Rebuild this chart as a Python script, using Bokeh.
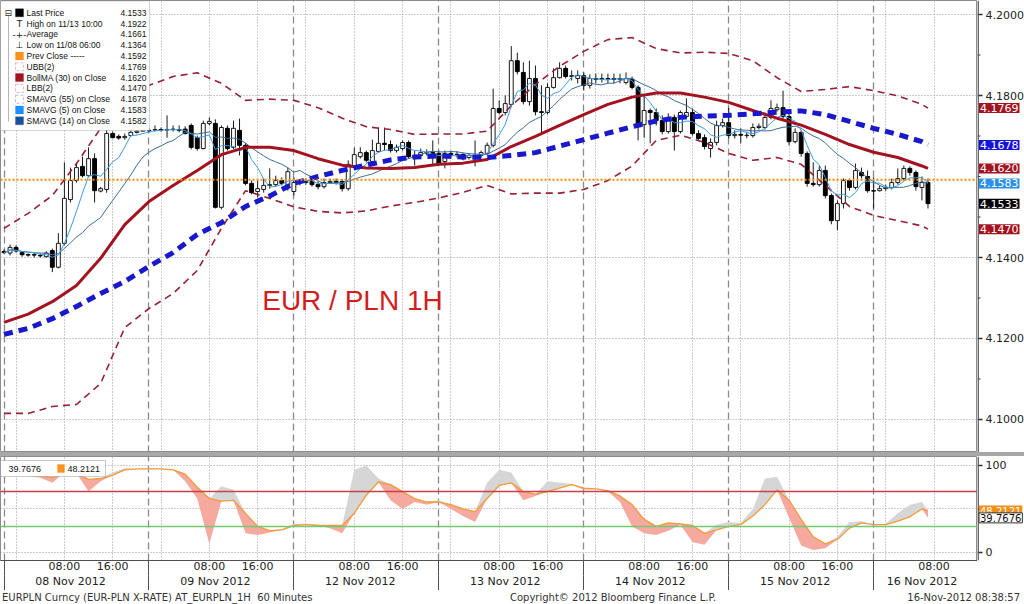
import numpy as np
import pandas as pd
from bokeh.plotting import figure
from bokeh.models import (Range1d, FixedTicker, Grid, Span, Label, BoxAnnotation,
                          Div, LinearAxis)
from bokeh.layouts import column, row
from bokeh.embed import file_html
from bokeh.resources import INLINE

# ---------------- data ----------------
day_labels = ["08 Nov 2012", "09 Nov 2012", "12 Nov 2012", "13 Nov 2012",
              "14 Nov 2012", "15 Nov 2012", "16 Nov 2012"]
session_start_hour = 22          # each trading day starts at 22:00
time_labels = ["08:00", "16:00"]

opens = [
    4.1415, 4.1411, 4.1425, 4.1412, 4.1407, 4.1407, 4.1405, 4.1402, 4.1417, 4.1376, 4.1435, 4.1543,
    4.1590, 4.1625, 4.1602, 4.1644, 4.1564, 4.1568, 4.1706, 4.1699, 4.1696, 4.1701, 4.1709, 4.1712,
    4.1714, 4.1715, 4.1716, 4.1715, 4.1716, 4.1716, 4.1717, 4.1726, 4.1696, 4.1669, 4.1731, 4.1731,
    4.1524, 4.1719, 4.1672, 4.1714, 4.1677, 4.1583, 4.1563, 4.1568, 4.1578, 4.1580, 4.1590, 4.1578,
    4.1563, 4.1585, 4.1585, 4.1588, 4.1580, 4.1575, 4.1585, 4.1588, 4.1588, 4.1570, 4.1627, 4.1649,
    4.1659, 4.1637, 4.1662, 4.1682, 4.1679, 4.1664, 4.1669, 4.1684, 4.1649, 4.1652, 4.1659, 4.1659,
    4.1657, 4.1637, 4.1657, 4.1654, 4.1654, 4.1647, 4.1649, 4.1652, 4.1657, 4.1677, 4.1768, 4.1758,
    4.1778, 4.1886, 4.1857, 4.1785, 4.1842, 4.1760, 4.1758, 4.1820, 4.1844, 4.1867, 4.1847, 4.1842,
    4.1849, 4.1825, 4.1842, 4.1840, 4.1842, 4.1842, 4.1840, 4.1832, 4.1840, 4.1820, 4.1728, 4.1763,
    4.1758, 4.1738, 4.1711, 4.1746, 4.1711, 4.1748, 4.1758, 4.1706, 4.1696, 4.1669, 4.1684, 4.1726,
    4.1733, 4.1701, 4.1704, 4.1701, 4.1701, 4.1721, 4.1721, 4.1746, 4.1765, 4.1770, 4.1748, 4.1686,
    4.1709, 4.1657, 4.1583, 4.1580, 4.1615, 4.1553, 4.1491, 4.1533, 4.1590, 4.1573, 4.1610, 4.1600,
    4.1565, 4.1565, 4.1570, 4.1573, 4.1585, 4.1595, 4.1620, 4.1610, 4.1573, 4.1585]
highs = [
    4.1420, 4.1432, 4.1430, 4.1415, 4.1410, 4.1412, 4.1410, 4.1415, 4.1422, 4.1460, 4.1635, 4.1622,
    4.1632, 4.1649, 4.1672, 4.1657, 4.1574, 4.1721, 4.1711, 4.1704, 4.1706, 4.1714, 4.1719, 4.1721,
    4.1719, 4.1726, 4.1721, 4.1751, 4.1726, 4.1726, 4.1724, 4.1731, 4.1701, 4.1738, 4.1746, 4.1741,
    4.1726, 4.1726, 4.1738, 4.1743, 4.1682, 4.1590, 4.1590, 4.1595, 4.1620, 4.1602, 4.1598, 4.1622,
    4.1598, 4.1593, 4.1595, 4.1595, 4.1588, 4.1595, 4.1595, 4.1595, 4.1593, 4.1640, 4.1672, 4.1672,
    4.1664, 4.1691, 4.1721, 4.1721, 4.1689, 4.1679, 4.1689, 4.1689, 4.1664, 4.1669, 4.1667, 4.1689,
    4.1664, 4.1664, 4.1664, 4.1662, 4.1659, 4.1657, 4.1689, 4.1664, 4.1684, 4.1817, 4.1788, 4.1800,
    4.1922, 4.1906, 4.1882, 4.1886, 4.1874, 4.1825, 4.1830, 4.1867, 4.1882, 4.1874, 4.1862, 4.1862,
    4.1857, 4.1852, 4.1854, 4.1854, 4.1854, 4.1854, 4.1854, 4.1857, 4.1847, 4.1825, 4.1800, 4.1768,
    4.1768, 4.1751, 4.1756, 4.1753, 4.1763, 4.1793, 4.1768, 4.1714, 4.1704, 4.1694, 4.1738, 4.1743,
    4.1770, 4.1714, 4.1719, 4.1711, 4.1731, 4.1731, 4.1758, 4.1788, 4.1780, 4.1812, 4.1756, 4.1719,
    4.1714, 4.1662, 4.1635, 4.1627, 4.1627, 4.1558, 4.1541, 4.1595, 4.1595, 4.1632, 4.1622, 4.1615,
    4.1598, 4.1578, 4.1580, 4.1595, 4.1620, 4.1627, 4.1625, 4.1615, 4.1600, 4.1595]
lows = [
    4.1410, 4.1405, 4.1412, 4.1402, 4.1402, 4.1400, 4.1400, 4.1400, 4.1364, 4.1373, 4.1430, 4.1536,
    4.1585, 4.1598, 4.1598, 4.1536, 4.1561, 4.1560, 4.1694, 4.1691, 4.1691, 4.1699, 4.1706, 4.1711,
    4.1709, 4.1711, 4.1711, 4.1696, 4.1711, 4.1709, 4.1704, 4.1667, 4.1664, 4.1667, 4.1726, 4.1521,
    4.1519, 4.1664, 4.1667, 4.1652, 4.1578, 4.1556, 4.1548, 4.1560, 4.1570, 4.1575, 4.1578, 4.1565,
    4.1553, 4.1578, 4.1580, 4.1575, 4.1568, 4.1570, 4.1583, 4.1580, 4.1563, 4.1565, 4.1622, 4.1644,
    4.1635, 4.1632, 4.1659, 4.1664, 4.1659, 4.1659, 4.1664, 4.1644, 4.1627, 4.1647, 4.1652, 4.1627,
    4.1627, 4.1620, 4.1647, 4.1647, 4.1640, 4.1642, 4.1625, 4.1647, 4.1654, 4.1672, 4.1753, 4.1751,
    4.1773, 4.1852, 4.1778, 4.1775, 4.1751, 4.1706, 4.1753, 4.1817, 4.1842, 4.1842, 4.1837, 4.1830,
    4.1812, 4.1817, 4.1830, 4.1832, 4.1830, 4.1830, 4.1830, 4.1827, 4.1815, 4.1689, 4.1696, 4.1682,
    4.1726, 4.1704, 4.1706, 4.1664, 4.1706, 4.1743, 4.1701, 4.1689, 4.1667, 4.1647, 4.1677, 4.1721,
    4.1694, 4.1694, 4.1682, 4.1694, 4.1696, 4.1716, 4.1716, 4.1741, 4.1760, 4.1738, 4.1677, 4.1682,
    4.1649, 4.1575, 4.1575, 4.1575, 4.1546, 4.1482, 4.1467, 4.1521, 4.1565, 4.1568, 4.1595, 4.1560,
    4.1521, 4.1563, 4.1565, 4.1568, 4.1580, 4.1590, 4.1602, 4.1565, 4.1541, 4.1521]
closes = [
    4.1412, 4.1425, 4.1416, 4.1407, 4.1406, 4.1406, 4.1404, 4.1411, 4.1376, 4.1435, 4.1546, 4.1590,
    4.1622, 4.1602, 4.1644, 4.1565, 4.1570, 4.1706, 4.1696, 4.1695, 4.1699, 4.1709, 4.1712, 4.1715,
    4.1713, 4.1716, 4.1715, 4.1716, 4.1717, 4.1714, 4.1706, 4.1672, 4.1669, 4.1731, 4.1736, 4.1524,
    4.1721, 4.1669, 4.1719, 4.1677, 4.1583, 4.1560, 4.1570, 4.1578, 4.1580, 4.1590, 4.1583, 4.1612,
    4.1585, 4.1584, 4.1588, 4.1580, 4.1575, 4.1585, 4.1588, 4.1585, 4.1570, 4.1630, 4.1654, 4.1659,
    4.1640, 4.1664, 4.1682, 4.1679, 4.1664, 4.1672, 4.1684, 4.1649, 4.1652, 4.1659, 4.1658, 4.1657,
    4.1632, 4.1657, 4.1654, 4.1655, 4.1644, 4.1652, 4.1652, 4.1659, 4.1677, 4.1768, 4.1758, 4.1780,
    4.1886, 4.1859, 4.1785, 4.1842, 4.1760, 4.1758, 4.1820, 4.1844, 4.1867, 4.1847, 4.1849, 4.1849,
    4.1825, 4.1842, 4.1840, 4.1842, 4.1841, 4.1840, 4.1842, 4.1842, 4.1820, 4.1728, 4.1763, 4.1758,
    4.1738, 4.1711, 4.1746, 4.1711, 4.1758, 4.1758, 4.1706, 4.1694, 4.1674, 4.1684, 4.1726, 4.1733,
    4.1701, 4.1704, 4.1702, 4.1702, 4.1721, 4.1724, 4.1746, 4.1768, 4.1770, 4.1748, 4.1686, 4.1709,
    4.1657, 4.1583, 4.1580, 4.1615, 4.1553, 4.1491, 4.1533, 4.1590, 4.1573, 4.1615, 4.1602, 4.1565,
    4.1564, 4.1570, 4.1573, 4.1585, 4.1595, 4.1620, 4.1610, 4.1575, 4.1585, 4.1533]

# studies sampled every 4 hourly bars (bar index) plus the last bar
band_idx = list(range(0, 153, 4)) + [153]
bollma = [4.1240, 4.1260, 4.1291, 4.1331, 4.1398, 4.1481, 4.1538, 4.1578, 4.1615, 4.1654,
          4.1672, 4.1672, 4.1664, 4.1644, 4.1628, 4.1621, 4.1620, 4.1622, 4.1630, 4.1633,
          4.1642, 4.1674, 4.1699, 4.1726, 4.1753, 4.1778, 4.1796, 4.1806, 4.1806, 4.1796,
          4.1783, 4.1763, 4.1744, 4.1727, 4.1704, 4.1679, 4.1660, 4.1647, 4.1626, 4.1620]
ubb = [4.1472, 4.1509, 4.1553, 4.1632, 4.1719, 4.1788, 4.1825, 4.1847, 4.1856, 4.1830,
       4.1788, 4.1791, 4.1788, 4.1770, 4.1744, 4.1723, 4.1716, 4.1704, 4.1705, 4.1705,
       4.1712, 4.1775, 4.1827, 4.1872, 4.1909, 4.1938, 4.1943, 4.1916, 4.1905, 4.1907,
       4.1904, 4.1886, 4.1844, 4.1810, 4.1815, 4.1822, 4.1812, 4.1799, 4.1778, 4.1769]
lbb = [4.1015, 4.1015, 4.1032, 4.1037, 4.1089, 4.1227, 4.1274, 4.1311, 4.1368, 4.1472,
       4.1565, 4.1546, 4.1525, 4.1514, 4.1510, 4.1515, 4.1527, 4.1536, 4.1547, 4.1561,
       4.1578, 4.1557, 4.1559, 4.1559, 4.1568, 4.1590, 4.1626, 4.1689, 4.1702, 4.1684,
       4.1657, 4.1640, 4.1647, 4.1630, 4.1578, 4.1526, 4.1504, 4.1491, 4.1478, 4.1470]
sma55 = [4.1210, 4.1225, 4.1249, 4.1279, 4.1311, 4.1341, 4.1378, 4.1412, 4.1457, 4.1486,
         4.1526, 4.1552, 4.1583, 4.1600, 4.1615, 4.1628, 4.1641, 4.1648, 4.1651, 4.1648,
         4.1647, 4.1652, 4.1659, 4.1675, 4.1691, 4.1707, 4.1723, 4.1737, 4.1746, 4.1749,
         4.1751, 4.1755, 4.1759, 4.1762, 4.1753, 4.1736, 4.1719, 4.1704, 4.1686, 4.1678]

prev_close = 4.1592
legend_names = ["Last Price", "High on 11/13 10:00", "Average", "Low on 11/08 06:00",
                "Prev Close -----", "UBB(2)", "BollMA (30) on Close", "LBB(2)",
                "SMAVG (55) on Close", "SMAVG (5) on Close", "SMAVG (14) on Close"]
legend_values = ["4.1533", "4.1922", "4.1661", "4.1364", "4.1592", "4.1769", "4.1620",
                 "4.1470", "4.1678", "4.1583", "4.1582"]

# oscillator panel, sampled every 2 bars plus the last bar
rsi_idx = list(range(0, 153, 2)) + [153]
rsi_slow = [90, 89, 89, 88, 86, 92, 91, 84, 85, 89, 95, 96, 96, 96, 95, 90, 75, 62, 59, 60,
            45, 30, 25, 26, 31, 32, 31, 31, 31, 45, 66, 81, 78, 70, 62, 58, 58, 55, 50, 47,
            62, 77, 80, 70, 67, 70, 74, 78, 74, 73, 71, 65, 55, 38, 30, 34, 33, 31, 22, 26,
            30, 32, 42, 55, 72, 60, 38, 18, 10, 15, 28, 34, 32, 32, 36, 41, 50, 48.2121]
rsi_fast = [90, 91, 88, 86, 80, 96, 92, 70, 82, 92, 97, 96, 97, 96, 96, 82, 62, 10, 76, 72,
            22, 20, 23, 27, 33, 33, 32, 28, 22, 95, 100, 85, 60, 50, 58, 55, 60, 50, 42, 35,
            80, 95, 92, 60, 65, 82, 80, 79, 72, 73, 70, 58, 30, 22, 20, 25, 32, 12, 9, 32,
            35, 34, 50, 85, 87, 40, 8, 3, 5, 18, 35, 36, 32, 33, 45, 55, 58, 39.7676]
rsi_upper, rsi_lower = 70, 30
rsi_last_labels = ["39.7676", "48.2121"]
rsi_ticks = [0, 100]
rsi_minor = [50]

main_y_ticks = [4.10, 4.12, 4.14, 4.18, 4.20]
main_y_minor = [4.09, 4.11, 4.13, 4.15, 4.16, 4.17, 4.19]

footer_left = "EURPLN Curncy (EUR-PLN X-RATE) AT_EURPLN_1H&nbsp;&nbsp;60 Minutes"
footer_mid = "Copyright&copy; 2012 Bloomberg Finance L.P."
footer_right = "16-Nov-2012 08:38:57"

# ---------------- colours / fonts ----------------
FONT = "DejaVu Sans"
LFONT = "Liberation Sans"
C_BOLL = "#a3121f"
C_BAND = "#962034"
C_SMA55 = "#1818cc"
C_SMA5 = "#3b9be2"
C_SMA14 = "#3d6b9b"
C_PREV = "#f08c00"
GRID_C = "#9a9a9a"
AX_C = "#505050"

# ---------------- geometry ----------------
W_PLOT = 977
W_AX = 47
H_MAIN = 452
H_LOW = 104
H_XAX = 30
H_FOOT = 14
x_lo, x_hi = -0.58, 161.2
y_lo, y_hi = 4.09185, 4.20346
r_lo, r_hi = -9.2, 110.3

n = len(closes)
xi = np.arange(n)
o = np.array(opens); c = np.array(closes); hi = np.array(highs); lo = np.array(lows)
up = c >= o
btop = np.maximum(o, c); bbot = np.minimum(o, c)

s = pd.Series(closes)
sma5 = s.rolling(5, min_periods=1).mean().values
sma14 = s.rolling(14, min_periods=1).mean().values

day_starts = [24 * d for d in range(len(day_labels))]
label_offsets = [(int(t[:2]) - session_start_hour) % 24 for t in time_labels]
time_ticks, time_over = [], {}
for d0 in day_starts:
    for off, t in zip(label_offsets, time_labels):
        if d0 + off <= x_hi:
            time_ticks.append(d0 + off)
            time_over[d0 + off] = t
grid8 = [v for v in range(2, int(x_hi) + 1, 8)]
centers = [d0 + 11 for d0 in day_starts[:-1]] + [int(round((day_starts[-1] - 0.5 + x_hi) / 2))]
date_over = {cc: lab for cc, lab in zip(centers, day_labels)}


def add_vgrids(fig):
    fig.add_layout(Grid(dimension=0, ticker=FixedTicker(ticks=grid8),
                        grid_line_color=GRID_C, grid_line_dash="1 2", grid_line_width=1))
    fig.add_layout(Grid(dimension=0, ticker=FixedTicker(ticks=day_starts),
                        grid_line_color="#8a8a8a", grid_line_dash="7 4", grid_line_width=1.3))


def axis_strip(y_range, height, ticks, minor, bottom=0):
    """narrow right-hand strip: axis line, tick marks, tick labels and last-value tags"""
    f = figure(width=W_AX, height=height, x_range=Range1d(0, W_AX), y_range=y_range,
               output_backend="svg", toolbar_location=None, y_axis_location=None,
               x_axis_location=None, min_border_left=0, min_border_right=0,
               min_border_top=0, min_border_bottom=bottom)
    f.outline_line_color = None
    f.grid.visible = False
    f.add_layout(Span(location=0.6, dimension="height", line_color=AX_C, line_width=1.5))
    f.segment(x0=[0] * len(ticks), y0=ticks, x1=[5] * len(ticks), y1=ticks,
              line_color="#303030", line_width=1.5)
    f.segment(x0=[0] * len(minor), y0=minor, x1=[3] * len(minor), y1=minor,
              line_color="#303030", line_width=1)
    return f


def tag(fig, yv, text, bg, fg="white", border=None, size="11px"):
    fig.add_layout(Label(x=1.5, y=yv, text=text, text_font=FONT, text_font_size=size,
                         text_color=fg, text_align="left", text_baseline="middle",
                         background_fill_color=bg, background_fill_alpha=1.0,
                         border_line_color=border, padding=1))


# ---------------- main panel ----------------
p = figure(width=W_PLOT, height=H_MAIN, x_range=Range1d(x_lo, x_hi),
           y_range=Range1d(y_lo, y_hi), output_backend="svg", toolbar_location=None,
           y_axis_location=None, x_axis_location=None, min_border_left=0,
           min_border_right=0, min_border_top=0, min_border_bottom=0)
p.outline_line_color = "#8c8c8c"
p.grid.visible = False
add_vgrids(p)
p.add_layout(Grid(dimension=1, ticker=FixedTicker(ticks=main_y_ticks),
                  grid_line_color=GRID_C, grid_line_dash="1 2"))
p.add_layout(Span(location=prev_close, dimension="width", line_color=C_PREV,
                  line_dash="2 2", line_width=2))

# candles
p.segment(x0=xi, y0=hi, x1=xi, y1=lo, line_color="#1a1a1a", line_width=1)
p.vbar(x=xi[up], width=0.64, top=btop[up], bottom=bbot[up],
       fill_color="white", line_color="#1a1a1a", line_width=1)
p.vbar(x=xi[~up], width=0.64, top=btop[~up], bottom=bbot[~up],
       fill_color="black", line_color="black", line_width=1)

# studies
p.line(band_idx, ubb, line_color=C_BAND, line_width=1.6, line_dash="7 5")
p.line(band_idx, lbb, line_color=C_BAND, line_width=1.6, line_dash="7 5")
p.line(xi, sma14, line_color=C_SMA14, line_width=1)
p.line(xi, sma5, line_color=C_SMA5, line_width=1)
p.line(band_idx, bollma, line_color=C_BOLL, line_width=3)
p.line(band_idx, sma55, line_color=C_SMA55, line_width=5, line_dash="9 6")

p.add_layout(Label(x=57.7, y=4.1294, text="EUR / PLN 1H", text_font=LFONT,
                   text_font_size="28px", text_color="#d11f1f",
                   text_align="center", text_baseline="middle"))


# legend box (positions given in reference pixels -> data units)
def lx(px):
    return x_lo + px / 6.04


def ly(py):
    return y_hi - py / 4050.0


p.add_layout(BoxAnnotation(left=lx(0), right=lx(149), top=ly(0.5), bottom=ly(130),
                           fill_color="white", fill_alpha=1.0, line_color="#7a7a7a",
                           line_width=1))
p.add_layout(BoxAnnotation(left=lx(8), right=lx(8), top=ly(15), bottom=ly(121),
                           fill_alpha=0, line_color="#707070", line_width=1))
p.add_layout(Label(x=lx(4), y=ly(12.3), text="\u229f", text_font=FONT,
                   text_font_size="9px", text_color="#333333", text_baseline="middle"))
icon_kind = ["fill", "T", "avg", "L", "fill", "open", "fill", "open", "open", "fill", "fill"]
icon_col = ["black", "#222222", "#222222", "#222222", "#f7931e", C_BAND, C_BOLL, C_BAND,
            "#1a1ad0", "#1e90ff", "#1b4f9a"]
for k, (name, val) in enumerate(zip(legend_names, legend_values)):
    yc = 12.3 + 10.8 * k
    kind = icon_kind[k]
    if kind == "fill":
        p.add_layout(BoxAnnotation(left=lx(15), right=lx(23), top=ly(yc - 4), bottom=ly(yc + 4),
                                   fill_color=icon_col[k], fill_alpha=1.0,
                                   line_color=icon_col[k], line_width=1))
    elif kind == "open":
        p.add_layout(BoxAnnotation(left=lx(15), right=lx(23), top=ly(yc - 4), bottom=ly(yc + 4),
                                   fill_color="white", fill_alpha=1.0,
                                   line_color=icon_col[k], line_width=1, line_dash="3 2"))
    else:
        glyph = {"T": "T", "L": "\u22a5", "avg": "-+-"}[kind]
        p.add_layout(Label(x=lx(19), y=ly(yc), text=glyph, text_font=FONT,
                           text_font_size="9px", text_color=icon_col[k],
                           text_align="center", text_baseline="middle"))
    p.add_layout(Label(x=lx(26), y=ly(yc), text=name, text_font=LFONT, text_font_size="8.5px",
                       text_color="#111111", text_baseline="middle"))
    p.add_layout(Label(x=lx(146), y=ly(yc), text=val, text_font=LFONT, text_font_size="8.5px",
                       text_color="#111111", text_baseline="middle", text_align="right"))

# right-hand strip of the main panel: tick labels and last-value tags
ps = axis_strip(p.y_range, H_MAIN, main_y_ticks, main_y_minor)
for v in main_y_ticks:
    ps.add_layout(Label(x=8, y=v, text="%.4f" % v, text_font=FONT, text_font_size="11px",
                        text_color="#222222", text_align="left", text_baseline="middle"))
tag_values = [legend_values[5], legend_values[8], legend_values[6], legend_values[9],
              legend_values[0], legend_values[7]]
tag_colors = [C_BOLL, "#1414d8", C_BOLL, "#2a8fe6", "black", C_BOLL]
for tv, tc in zip(tag_values, tag_colors):
    tag(ps, float(tv), tv, tc)

# ---------------- oscillator panel ----------------
q = figure(frame_width=W_PLOT, frame_height=H_LOW, x_range=p.x_range,
           y_range=Range1d(r_lo, r_hi), output_backend="svg", toolbar_location=None,
           y_axis_location=None, x_axis_location=None, min_border_left=0,
           min_border_right=0, min_border_top=0, min_border_bottom=0)
q.outline_line_color = "#8c8c8c"
q.grid.visible = False
add_vgrids(q)
q.add_layout(Grid(dimension=1, ticker=FixedTicker(ticks=[0, 50, 100]),
                  grid_line_color=GRID_C, grid_line_dash="1 2"))

rs = np.array(rsi_slow, dtype=float)
rf = np.array(rsi_fast, dtype=float)
q.varea(x=rsi_idx, y1=rs, y2=np.maximum(rf, rs), fill_color="#d6d6d6", fill_alpha=1.0)
q.varea(x=rsi_idx, y1=np.minimum(rf, rs), y2=rs, fill_color="#f6a49a", fill_alpha=0.95)
q.add_layout(Span(location=rsi_upper, dimension="width", line_color="#c8404c", line_width=1.5))
q.add_layout(Span(location=rsi_lower, dimension="width", line_color="#74c874", line_width=1.5))
q.line(rsi_idx, rs, line_color="#f29b38", line_width=1.3)

ax1 = LinearAxis(ticker=FixedTicker(ticks=time_ticks, minor_ticks=day_starts),
                 major_label_overrides=time_over)
ax2 = LinearAxis(ticker=FixedTicker(ticks=centers, minor_ticks=day_starts),
                 major_label_overrides=date_over)
for a in (ax1, ax2):
    a.major_tick_out = 0
    a.major_tick_in = 0
    a.minor_tick_out = 15
    a.minor_tick_in = 0
    a.minor_tick_line_color = AX_C
    a.major_label_text_font = FONT
    a.major_label_text_font_size = "11px"
    a.major_label_text_color = "#222222"
    a.major_label_standoff = -16
ax1.axis_line_color = AX_C
ax2.axis_line_color = None
q.add_layout(ax1, "below")
q.add_layout(ax2, "below")


def qy(py):
    return r_hi - (py - 456) / 0.87


q.add_layout(BoxAnnotation(left=lx(0), right=lx(105), top=qy(460), bottom=qy(476),
                           fill_color="white", fill_alpha=1.0, line_color="#555555",
                           line_width=1))
q.add_layout(Label(x=lx(8), y=qy(468), text=rsi_last_labels[0], text_font=LFONT,
                   text_font_size="9px", text_color="#111111", text_baseline="middle"))
q.add_layout(BoxAnnotation(left=lx(57), right=lx(64), top=qy(464), bottom=qy(472),
                           fill_color="#f7931e", fill_alpha=1.0, line_color="#f7931e"))
q.add_layout(Label(x=lx(67), y=qy(468), text=rsi_last_labels[1], text_font=LFONT,
                   text_font_size="9px", text_color="#111111", text_baseline="middle"))

qs = axis_strip(q.y_range, H_LOW + H_XAX, rsi_ticks, rsi_minor, bottom=H_XAX)
for v in rsi_ticks:
    qs.add_layout(Label(x=8, y=v, text="%d" % v, text_font=FONT, text_font_size="11px",
                        text_color="#222222", text_align="left", text_baseline="middle"))
tag(qs, rs[-1], rsi_last_labels[1], "#f0901a", size="10px")
tag(qs, rf[-1], rsi_last_labels[0], "white", fg="#111111", border="#333333", size="10px")

# ---------------- separator and footer ----------------
W_ALL = W_PLOT + W_AX
sep = Div(text="", width=W_ALL, height=4, margin=0,
          styles={"background-color": "#a8a8a8"})
footer_html = (
    '<div style="position:relative;width:%dpx;height:%dpx;font-family:\'DejaVu Sans\';'
    'font-size:10px;color:#333333;white-space:nowrap;">'
    '<span style="position:absolute;left:2px;top:1px;">%s</span>'
    '<span style="position:absolute;left:510px;top:1px;">%s</span>'
    '<span style="position:absolute;right:4px;top:1px;">%s</span></div>'
    % (W_ALL, H_FOOT, footer_left, footer_mid, footer_right))
footer = Div(text=footer_html, width=W_ALL, height=H_FOOT, margin=0)

layout = column(row(p, ps, spacing=0), sep, row(q, qs, spacing=0), footer, spacing=0)
open("out.html", "w").write(file_html(layout, INLINE, "EURPLN 1H"))
